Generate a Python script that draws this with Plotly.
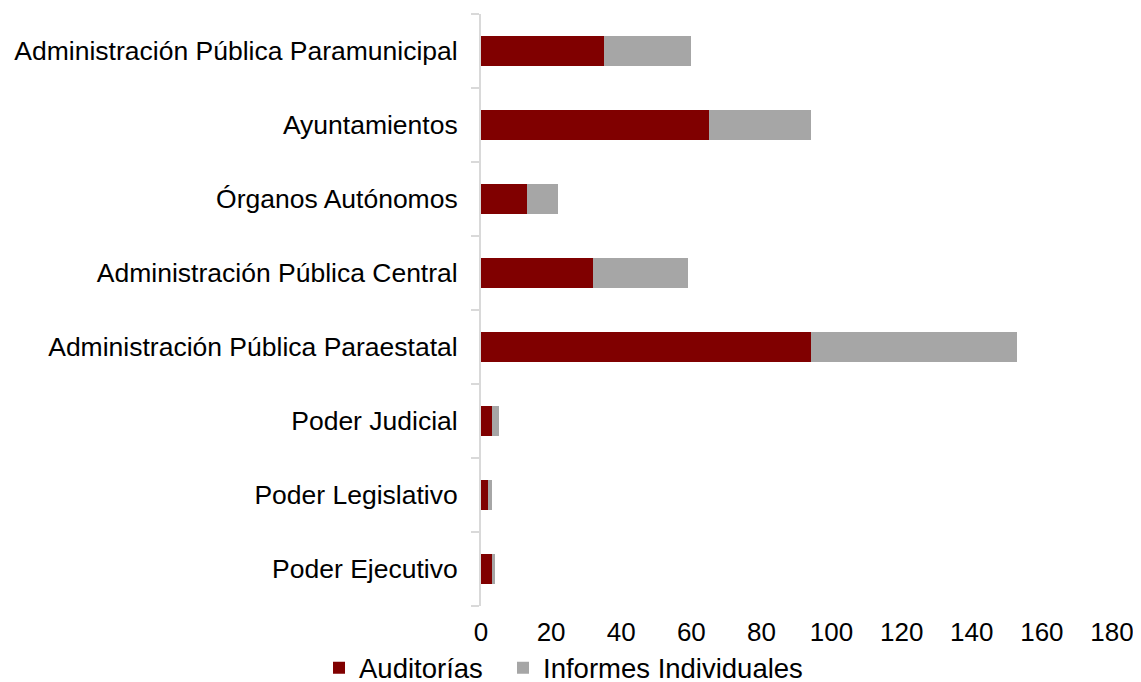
import plotly.graph_objects as go

categories = [
    "Poder Ejecutivo",
    "Poder Legislativo",
    "Poder Judicial",
    "Administración Pública Paraestatal",
    "Administración Pública Central",
    "Órganos Autónomos",
    "Ayuntamientos",
    "Administración Pública Paramunicipal",
]
auditorias = [3, 2, 3, 94, 32, 13, 65, 35]
informes = [1, 1, 2, 59, 27, 9, 29, 25]
x_ticks = [0, 20, 40, 60, 80, 100, 120, 140, 160, 180]

FONT = "Liberation Sans, Arial, sans-serif"

fig = go.Figure()
fig.add_trace(go.Bar(
    y=categories, x=auditorias, orientation="h", name="Auditorías",
    marker=dict(color="#800000", line=dict(width=0)), legend="legend",
))
fig.add_trace(go.Bar(
    y=categories, x=informes, orientation="h", name="Informes Individuales",
    marker=dict(color="#a6a6a6", line=dict(width=0)), legend="legend2",
))

legend_common = dict(
    orientation="h", xref="container", yref="container",
    xanchor="left", y=0.021, yanchor="middle",
    font=dict(size=27.5, color="black"),
    itemwidth=30, bgcolor="rgba(0,0,0,0)",
)

fig.update_layout(
    barmode="stack",
    bargap=0.6,
    width=1133, height=674,
    margin=dict(l=473, r=29, t=6, b=76, autoexpand=False),
    paper_bgcolor="white", plot_bgcolor="white",
    font=dict(family=FONT, size=26, color="black"),
    showlegend=True,
    legend=dict(x=0.2745, **legend_common),
    legend2=dict(x=0.4369, **legend_common),
)
fig.update_xaxes(
    range=[0, 180], tickvals=x_ticks, showgrid=False, zeroline=False,
    showline=False, ticks="", tickfont=dict(size=26),
    ticklabelstandoff=8, fixedrange=True,
)
fig.update_yaxes(
    categoryorder="array", categoryarray=categories,
    showline=True, linecolor="#d9d9d9", linewidth=2,
    ticks="outside", tickson="boundaries", ticklen=8, tickcolor="#d9d9d9",
    tickwidth=2, showgrid=False, zeroline=False,
    tickfont=dict(size=26.5), ticklabelstandoff=16, fixedrange=True,
)

fig.write_html("out.html")
